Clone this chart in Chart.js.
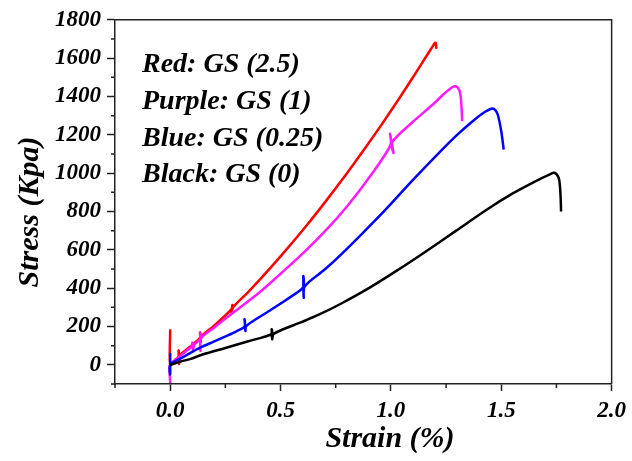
<!DOCTYPE html>
<html lang="en">
<head>
    <meta charset="UTF-8">
    <title>Stress vs Strain</title>
    <script src="https://cdn.jsdelivr.net/npm/chart.js"></script>
    <style>
        html, body { margin: 0; padding: 0; background: #fff; }
        #wrap { width: 632px; height: 461px; }
    </style>
</head>
<body>
<div id="wrap"><canvas id="chart" width="632" height="461"></canvas></div>
<script>
    // Data (strain in %, stress in Kpa)
    const redStrain = [0, 0, 0.02, 0.038, 0.038, 0.040, 0.045, 0.07, 0.10, 0.135, 0.135, 0.138, 0.142, 0.2, 0.279, 0.282, 0.277, 0.285, 0.35, 0.407, 0.5, 0.618, 0.708, 0.8, 0.889, 0.96, 1.04, 1.12, 1.17, 1.19, 1.198, 1.203, 1.206];
    const redStress = [185, 0, 22, 45, 75, 5, 50, 76, 104, 142, 168, 118, 148, 205, 292, 312, 275, 300, 376, 446, 566, 727, 858, 998, 1140, 1257, 1394, 1536, 1627, 1663, 1677, 1680, 1648];

    const pinkStrain = [0, 0, 0.03, 0.06, 0.1, 0.1, 0.103, 0.11, 0.136, 0.136, 0.137, 0.14, 0.2, 0.3, 0.407, 0.5, 0.6, 0.708, 0.8, 0.9, 0.998, 0.996, 1.012, 1.005, 1.1, 1.19, 1.24, 1.27, 1.288, 1.302, 1.312, 1.318, 1.323];
    const pinkStress = [-95, 0, 32, 60, 100, 115, 80, 105, 135, 168, 73, 138, 195, 285, 380, 475, 580, 705, 825, 975, 1145, 1205, 1105, 1160, 1268, 1358, 1413, 1442, 1453, 1448, 1425, 1380, 1271];

    const blueStrain = [0, 0, 0, 0.05, 0.1, 0.136, 0.2, 0.256, 0.3, 0.337, 0.337, 0.341, 0.345, 0.45, 0.55, 0.603, 0.603, 0.605, 0.61, 0.7, 0.769, 0.87, 0.98, 1.1, 1.221, 1.3, 1.38, 1.42, 1.459, 1.472, 1.484, 1.5, 1.511];
    const blueStress = [62, -50, 0, 35, 68, 90, 122, 151, 175, 200, 238, 177, 203, 282, 358, 405, 463, 350, 410, 497, 570, 685, 815, 965, 1110, 1200, 1280, 1315, 1337, 1330, 1306, 1219, 1123];

    const blackStrain = [0, 0.05, 0.09, 0.15, 0.25, 0.35, 0.46, 0.46, 0.462, 0.47, 0.6, 0.678, 0.769, 0.9, 1.025, 1.15, 1.296, 1.432, 1.55, 1.65, 1.72, 1.741, 1.76, 1.766, 1.769, 1.771];
    const blackStress = [0, 18, 30, 55, 88, 122, 160, 186, 134, 163, 225, 264, 316, 400, 490, 585, 700, 808, 893, 955, 994, 1002, 976, 930, 870, 800];

    const xTicks = [0, 0.5, 1.0, 1.5, 2.0];
    const xMinor = [-0.25, 0.25, 0.75, 1.25, 1.75];
    const yTicks = [0, 200, 400, 600, 800, 1000, 1200, 1400, 1600, 1800];
    const yMinor = [-100, 100, 300, 500, 700, 900, 1100, 1300, 1500, 1700];

    const notes = ['Red: GS (2.5)', 'Purple: GS (1)', 'Blue: GS (0.25)', 'Black: GS (0)'];
    const xTitle = 'Strain (%)';
    const yTitle = 'Stress (Kpa)';

    const serif = '"Liberation Serif", "Times New Roman", serif';
    const axisColor = '#222';

    const toPoints = (xs, ys) => xs.map((x, i) => ({ x: x, y: ys[i] }));

    const makeSet = (label, xs, ys, color) => ({
        label: label,
        data: toPoints(xs, ys),
        showLine: true,
        borderColor: color,
        borderWidth: 2.5,
        pointRadius: 0,
        tension: 0.3,
        fill: false
    });

    // minor ticks, frame and free text
    const decorations = {
        id: 'decorations',
        afterDraw(chart) {
            const ctx = chart.ctx;
            const area = chart.chartArea;
            const xs = chart.scales.x;
            const ys = chart.scales.y;
            ctx.save();
            ctx.strokeStyle = axisColor;
            ctx.lineWidth = 1.5;
            ctx.beginPath();
            xMinor.forEach(v => {
                const px = xs.getPixelForValue(v);
                ctx.moveTo(px, area.bottom);
                ctx.lineTo(px, area.bottom + 4);
            });
            yMinor.forEach(v => {
                const py = ys.getPixelForValue(v);
                ctx.moveTo(area.left - 4, py);
                ctx.lineTo(area.left, py);
            });
            ctx.moveTo(area.left, area.top);
            ctx.lineTo(area.right, area.top);
            ctx.lineTo(area.right, area.bottom);
            ctx.stroke();

            ctx.fillStyle = '#000';
            ctx.font = 'italic bold 28px ' + serif;
            ctx.textAlign = 'left';
            ctx.textBaseline = 'alphabetic';
            notes.forEach((t, i) => ctx.fillText(t, 142, 72 + i * 36.8));

            ctx.font = 'italic bold 30px ' + serif;
            ctx.textAlign = 'center';
            ctx.fillText(xTitle, 390, 447);

            ctx.translate(38, 212);
            ctx.rotate(-Math.PI / 2);
            ctx.fillText(yTitle, 0, 0);
            ctx.restore();
        }
    };

    const tickFont = { family: serif, size: 23, style: 'italic', weight: 'bold' };

    new Chart(document.getElementById('chart'), {
        type: 'scatter',
        data: {
            datasets: [
                makeSet('Black: GS (0)', blackStrain, blackStress, '#000000'),
                makeSet('Blue: GS (0.25)', blueStrain, blueStress, '#0000ff'),
                makeSet('Purple: GS (1)', pinkStrain, pinkStress, '#ff1aff'),
                makeSet('Red: GS (2.5)', redStrain, redStress, '#ff0000')
            ]
        },
        options: {
            responsive: false,
            animation: false,
            layout: { padding: { top: 18, right: 19, left: 0, bottom: 0 } },
            plugins: {
                legend: { display: false },
                tooltip: { enabled: false }
            },
            scales: {
                x: {
                    type: 'linear',
                    position: 'bottom',
                    min: -0.25,
                    max: 2.0,
                    afterBuildTicks: s => { s.ticks = xTicks.map(v => ({ value: v })); },
                    afterFit: s => { s.height = 77; },
                    ticks: {
                        font: tickFont,
                        color: '#000',
                        padding: 6,
                        maxRotation: 0,
                        callback: v => Number(v).toFixed(1)
                    },
                    grid: { drawOnChartArea: false, drawTicks: true, tickLength: 7, tickColor: axisColor, tickWidth: 1.5 },
                    border: { color: axisColor, width: 1.5 }
                },
                y: {
                    type: 'linear',
                    min: -100,
                    max: 1800,
                    afterBuildTicks: s => { s.ticks = yTicks.map(v => ({ value: v })); },
                    afterFit: s => { s.width = 115; },
                    ticks: {
                        font: tickFont,
                        color: '#000',
                        padding: 6,
                        callback: v => String(v)
                    },
                    grid: { drawOnChartArea: false, drawTicks: true, tickLength: 8, tickColor: axisColor, tickWidth: 1.5 },
                    border: { color: axisColor, width: 1.5 }
                }
            }
        },
        plugins: [decorations]
    });
</script>
</body>
</html>
